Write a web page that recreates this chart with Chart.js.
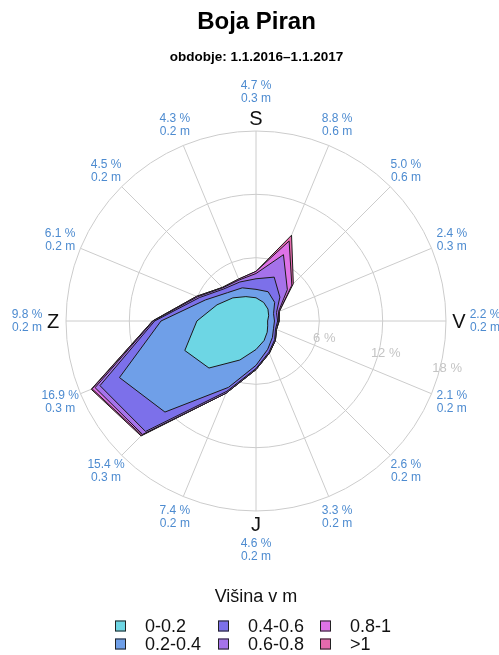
<!DOCTYPE html>
<html><head><meta charset="utf-8">
<script src="https://cdn.jsdelivr.net/npm/chart.js@4/dist/chart.umd.min.js"></script>
<style>html,body{margin:0;padding:0;background:#fff}</style>
</head><body>
<canvas id="c" width="499" height="655" style="width:499px;height:655px;display:block"></canvas>
<script>
// 16 directions, clockwise from S (sever) at the top
const directions = ['S','SSV','SV','VSV','V','VJV','JV','JJV','J','JJZ','JZ','ZJZ','Z','ZSZ','SZ','SSZ'];
const cardinalLetters = {0:'S', 4:'V', 8:'J', 12:'Z'};
const totalPct   = [4.7, 8.8, 5.0, 2.4, 2.2, 2.1, 2.6, 3.3, 4.6, 7.4, 15.4, 16.9, 9.8, 6.1, 4.5, 4.3];
const meanHeight = [0.3, 0.6, 0.6, 0.3, 0.2, 0.2, 0.2, 0.2, 0.2, 0.2, 0.3, 0.3, 0.2, 0.2, 0.2, 0.2];
const classLabels = ['0-0.2','0.2-0.4','0.4-0.6','0.6-0.8','0.8-1','>1'];
const classColors = ['#6dd6e4','#6f9fe8','#7c70ea','#a572ea','#de72e6','#e56aad'];
// frequency (%) per height class and direction
const h0_02  = [2.2, 1.9, 1.6, 1.3, 1.1, 1.2, 1.5, 2.0, 2.7, 4.0, 6.3, 7.3, 5.6, 4.0, 3.1, 2.5];
const h02_04 = [0.8, 1.1, 0.9, 0.5, 0.65,0.6, 0.7, 0.9, 1.5, 2.8, 5.9, 6.7, 3.4, 1.2, 0.7, 0.9];
const h04_06 = [1.0, 1.5, 0.7, 0.3, 0.3, 0.2, 0.3, 0.3, 0.3, 0.4, 2.6, 2.0, 0.6, 0.6, 0.5, 0.6];
const h06_08 = [0.5, 2.3, 1.0, 0.2, 0.1, 0.1, 0.1, 0.1, 0.1, 0.2, 0.4, 0.5, 0.15,0.2, 0.15,0.2];
const h08_1  = [0.2, 1.4, 0.6, 0.1, 0.05,0.0, 0.0, 0.0, 0.0, 0.0, 0.1, 0.3, 0.05,0.1, 0.05,0.1];
const h1_up  = [0.0, 0.6, 0.2, 0.0, 0.0, 0.0, 0.0, 0.0, 0.0, 0.0, 0.1, 0.1, 0.0, 0.0, 0.0, 0.0];
const ringTicks = [6, 12, 18];

const classSeries = [h0_02, h02_04, h04_06, h06_08, h08_1, h1_up];
// stack classes: each polygon is the cumulative frequency up to that class
const cumulative = [];
classSeries.forEach((s, k) => {
  cumulative.push(s.map((v, i) => (k === 0 ? 0 : cumulative[k - 1][i]) + v));
});

const FONT = "'Liberation Sans', Arial, sans-serif";

const roseText = {
  id: 'roseText',
  afterDraw(chart) {
    const ctx = chart.ctx;
    const scale = chart.scales.r;
    const R = scale.drawingArea;
    ctx.save();
    ctx.textAlign = 'center';
    ctx.textBaseline = 'middle';
    directions.forEach((d, i) => {
      const card = cardinalLetters[i] !== undefined;
      const p = scale.getPointPosition(i, R + (card ? 39 : 22));
      ctx.fillStyle = '#4d8bd0';
      ctx.font = '12px ' + FONT;
      ctx.fillText(totalPct[i].toFixed(1) + ' %', p.x, p.y - 6.5);
      ctx.fillText(meanHeight[i].toFixed(1) + ' m', p.x, p.y + 6.5);
      if (card) {
        const q = scale.getPointPosition(i, R + 13);
        ctx.fillStyle = '#111';
        ctx.font = '20px ' + FONT;
        ctx.fillText(cardinalLetters[i], q.x, q.y + 1);
      }
    });
    // ring labels
    const a = 104 * Math.PI / 180;
    ctx.fillStyle = '#c4c4c4';
    ctx.font = '13px ' + FONT;
    ringTicks.forEach(v => {
      const r = scale.getDistanceFromCenterForValue(v) + 7;
      ctx.fillText(v + ' %', scale.xCenter + r * Math.sin(a), scale.yCenter - r * Math.cos(a));
    });
    // legend
    ctx.fillStyle = '#111';
    ctx.font = '18px ' + FONT;
    ctx.fillText('Višina v m', 256, 597);
    const colX = [115, 218, 320];
    const rowY = [626, 644];
    classLabels.forEach((lab, k) => {
      const col = Math.floor(k / 2), row = k % 2;
      const x = colX[col], y = rowY[row];
      ctx.fillStyle = classColors[k];
      ctx.fillRect(x, y - 5.5, 11, 11);
      ctx.strokeStyle = '#222';
      ctx.lineWidth = 1;
      ctx.strokeRect(x + 0.5, y - 5, 10, 10);
      ctx.fillStyle = '#111';
      ctx.textAlign = 'left';
      ctx.fillText(lab, x + 30, y + 1);
      ctx.textAlign = 'center';
    });
    ctx.restore();
  }
};

new Chart(document.getElementById('c'), {
  type: 'radar',
  data: {
    labels: directions,
    datasets: classLabels.map((lab, k) => ({
      label: lab,
      data: cumulative[k],
      backgroundColor: classColors[k],
      borderColor: '#1a1a1a',
      borderWidth: 1,
      pointRadius: 0,
      pointHoverRadius: 0,
      fill: 'origin'
    }))
  },
  options: {
    responsive: false,
    animation: false,
    devicePixelRatio: 1,
    layout: { padding: { left: 66, right: 52, top: 0, bottom: 78 } },
    plugins: {
      legend: { display: false },
      tooltip: { enabled: false },
      title: {
        display: true, text: 'Boja Piran', color: '#000',
        font: { family: FONT, size: 24, weight: 'bold' },
        padding: { top: 8, bottom: 9 }
      },
      subtitle: {
        display: true, text: 'obdobje: 1.1.2016–1.1.2017', color: '#000',
        font: { family: FONT, size: 13.5, weight: 'bold' },
        padding: { top: 3, bottom: 0 }
      }
    },
    scales: {
      r: {
        z: 1,
        min: 0, max: 18,
        ticks: { stepSize: 6, display: false },
        grid: { circular: true, color: '#cccccc', lineWidth: 1 },
        angleLines: { color: '#cccccc', lineWidth: 1 },
        pointLabels: { display: false }
      }
    }
  },
  plugins: [roseText]
});
</script>
</body></html>
